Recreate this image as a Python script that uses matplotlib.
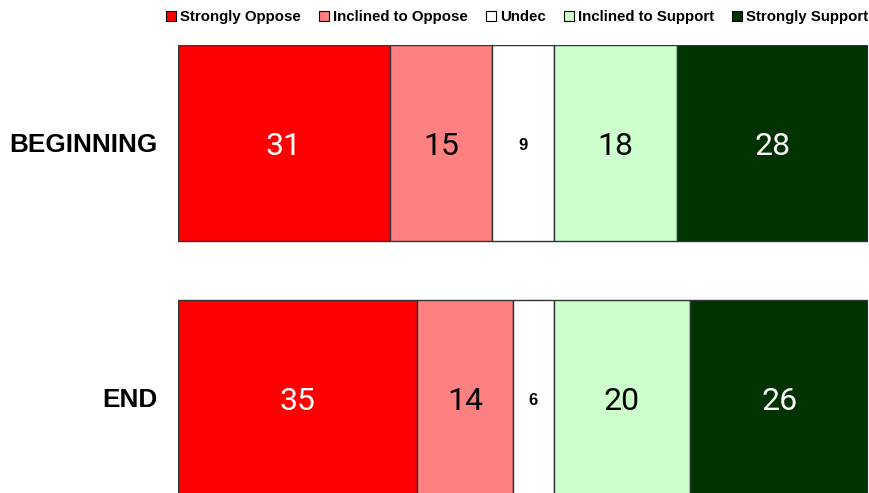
import matplotlib
matplotlib.use("Agg")
import matplotlib.pyplot as plt
from matplotlib.patches import Patch

categories = ["BEGINNING", "END"]
series_names = ["Strongly Oppose", "Inclined to Oppose", "Undec", "Inclined to Support", "Strongly Support"]
beginning = [31, 15, 9, 18, 28]
end = [35, 14, 6, 20, 26]
colors = ["#FF0000", "#FF8080", "#FFFFFF", "#CCFFCC", "#003300"]
text_colors = ["white", "black", "black", "black", "white"]

data = [beginning, end]

fig = plt.figure(figsize=(8.69, 4.93), dpi=100)
ax = fig.add_axes([178 / 869, 0, 690 / 869, 448 / 493])

bar_h = 0.769
for i, row in enumerate(data):
    left = 0
    for j, v in enumerate(row):
        ax.barh(i, v, left=left, height=bar_h, color=colors[j],
                edgecolor="#333333", linewidth=1.0)
        cx = left + v / 2
        if j == 2:
            ax.text(cx, i + 0.01, str(v), ha="center", va="center", fontsize=12,
                    fontweight="bold", color="black",
                    family=["Liberation Sans Narrow", "Liberation Sans", "DejaVu Sans"])
        else:
            ax.text(cx, i + 0.015, str(v), ha="center", va="center", fontsize=23,
                    fontweight="normal", color=text_colors[j], family=["Roboto", "DejaVu Sans"])
        left += v

ax.set_xlim(0, sum(beginning))
ax.set_ylim(-0.3843 + 1.757, -0.3843)
ax.set_yticks(range(len(categories)))
ax.set_yticklabels(categories, fontsize=18.8, fontweight="bold",
                   family=["Liberation Sans", "DejaVu Sans"])
ax.tick_params(axis="y", length=0, pad=15)
ax.set_xticks([])
for s in ax.spines.values():
    s.set_visible(False)

handles = [Patch(facecolor=c, edgecolor="black", linewidth=0.8) for c in colors]
fig.legend(handles, series_names, loc="center right", bbox_to_anchor=(1.001, 1 - 17 / 493),
           ncol=5, frameon=False, handlelength=0.7, handleheight=0.7,
           handletextpad=0.25, columnspacing=1.2, borderpad=0.1, borderaxespad=0.0,
           prop={"family": ["Liberation Sans", "DejaVu Sans"], "weight": "bold", "size": 10.8})

fig.savefig("out.png", dpi=100)
